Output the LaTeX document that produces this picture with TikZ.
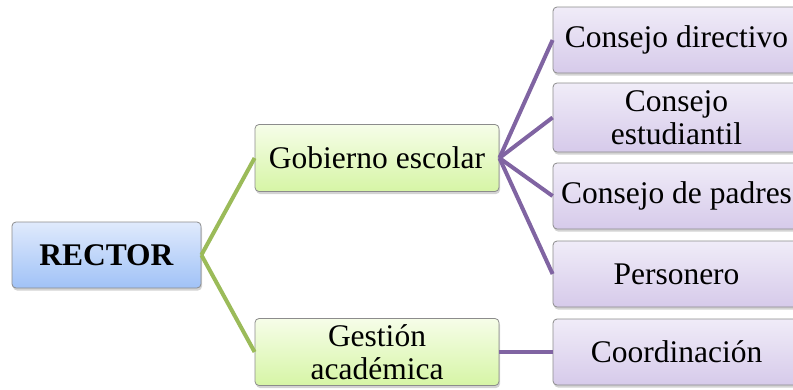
\documentclass[tikz,border=0pt]{standalone}
\usepackage{fontspec}
\setmainfont{Liberation Serif}
\usetikzlibrary{shadows}
\definecolor{lgreen}{HTML}{9BBB59}
\definecolor{lpurple}{HTML}{8064A2}
\definecolor{bordergray}{HTML}{8C8C8C}
\tikzset{
  basebox/.style={rounded corners=4pt, draw=bordergray, line width=0.8pt,
    drop shadow={opacity=0.35, shadow xshift=1pt, shadow yshift=-2.5pt},
    align=center, inner sep=0pt, font=\fontsize{31.5}{33}\selectfont},
  bluebox/.style={basebox, top color={rgb,255:red,224;green,234;blue,252}, bottom color={rgb,255:red,160;green,194;blue,247},
    minimum width=189pt, minimum height=66pt},
  greenbox/.style={basebox, top color={rgb,255:red,246;green,253;blue,232}, bottom color={rgb,255:red,214;green,245;blue,166},
    minimum width=244pt, minimum height=67pt},
  purplebox/.style={basebox, top color={rgb,255:red,240;green,236;blue,248}, bottom color={rgb,255:red,214;green,202;blue,234},
    minimum width=247pt, minimum height=66pt},
  greenline/.style={draw=lgreen, line width=4pt},
  purpleline/.style={draw=lpurple, line width=4pt},
}
\begin{document}
\begin{tikzpicture}[x=1pt,y=-1pt]
\useasboundingbox (0,0) rectangle (793,389);
\node[bluebox] (rector) at (106.5,255) {\textbf{RECTOR}};
\node[greenbox] (gob) at (377,158) {Gobierno escolar};
\node[greenbox] (ges) at (377,352) {Gestión\\académica};
\node[purplebox] (dir) at (676.5,40) {Consejo directivo};
\node[purplebox, minimum height=69pt] (est) at (676.5,117.5) {Consejo\\estudiantil};
\node[purplebox] (pad) at (676.5,196) {Consejo de padres};
\node[purplebox] (per) at (676.5,274) {Personero};
\node[purplebox] (coo) at (676.5,352) {Coordinación};
\draw[greenline] (rector.east) -- (gob.west);
\draw[greenline] (rector.east) -- (ges.west);
\draw[purpleline] (gob.east) -- (dir.west);
\draw[purpleline] (gob.east) -- (est.west);
\draw[purpleline] (gob.east) -- (pad.west);
\draw[purpleline] (gob.east) -- (per.west);
\draw[purpleline] (ges.east) -- (coo.west);
\end{tikzpicture}
\end{document}
